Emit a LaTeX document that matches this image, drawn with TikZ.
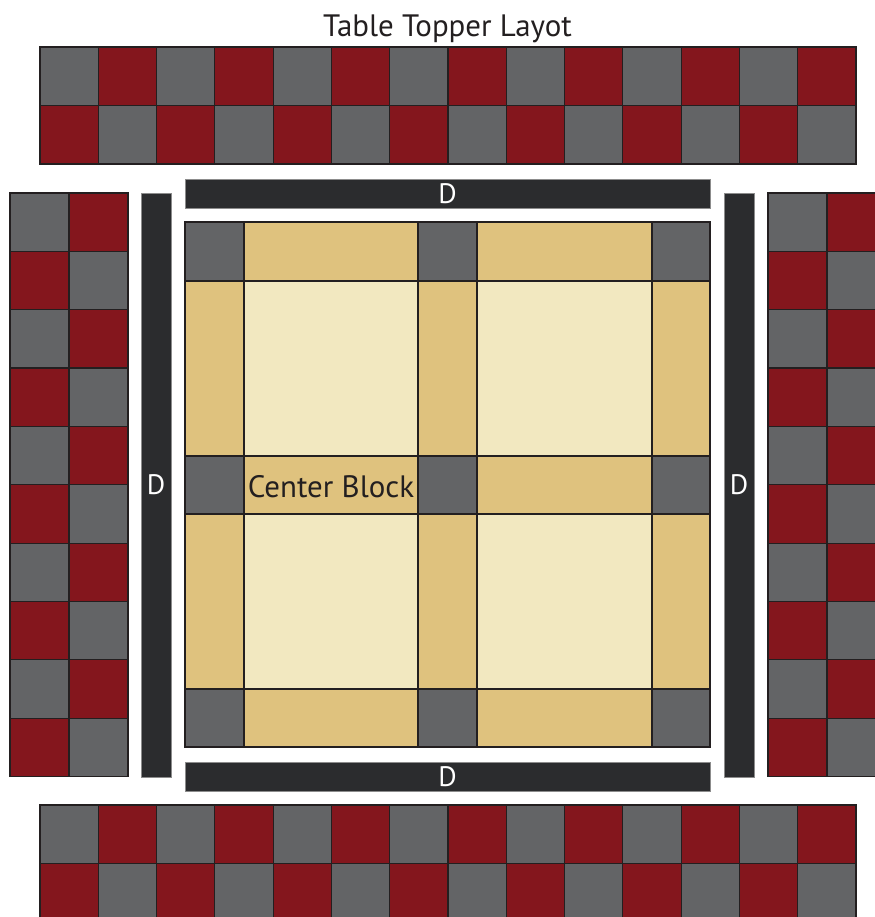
\documentclass[tikz,border=0pt]{standalone}
\usepackage{fontspec}
\setmainfont{PT Sans}
\usepackage{tikz}
\definecolor{patchgray}{HTML}{636466}
\definecolor{patchred}{HTML}{84161D}
\definecolor{patchtan}{HTML}{DFC27E}
\definecolor{patchcream}{HTML}{F2E8C0}
\definecolor{barblack}{HTML}{2B2C2E}
\definecolor{seamline}{HTML}{231F20}
\tikzset{
  cell0/.style={fill=patchgray,draw=seamline,line width=0.8pt},
  cell1/.style={fill=patchred,draw=seamline,line width=0.8pt},
  gridcell0/.style={fill=patchgray,draw=seamline,line width=0.8pt},
  gridcell1/.style={fill=patchtan,draw=seamline,line width=0.8pt},
  gridcell2/.style={fill=patchcream,draw=seamline,line width=0.8pt},
  dbar/.style={fill=barblack,draw=black!45,line width=0.6pt},
  dlabel/.style={text=white,font=\fontsize{20}{24}\selectfont,inner sep=0pt}
}
\begin{document}
\begin{tikzpicture}[x=0.025cm,y=-0.025cm]
  \useasboundingbox (0,0) rectangle (875,917);
  \clip (0,0) rectangle (875,917);

  \node (title) at (447.5,29) [text=seamline,font=\fontsize{22}{26}\selectfont] {Table Topper Layot};

  % top and bottom checker bands
  \foreach \i in {0,...,13} {
    \foreach \j in {0,1} {
      \pgfmathtruncatemacro{\k}{mod(\i+\j,2)}
      \draw [cell\k] (40+58.286*\i,47+58.5*\j) rectangle +(58.286,58.5);
      \draw [cell\k] (40+58.286*\i,805+58.5*\j) rectangle +(58.286,58.5);
    }
  }

  % left and right checker bands
  \foreach \j in {0,...,9} {
    \foreach \i in {0,1} {
      \pgfmathtruncatemacro{\k}{mod(\i+\j,2)}
      \draw [cell\k] (10+59*\i,193+58.35*\j) rectangle +(59,58.35);
      \draw [cell\k] (768+59*\i,193+58.35*\j) rectangle +(59,58.35);
    }
  }

  % D borders
  \draw [dbar] (185,179) rectangle (710,208);
  \draw [dbar] (185,762) rectangle (710,791);
  \draw [dbar] (141,193) rectangle (171,777);
  \draw [dbar] (724,193) rectangle (754,777);
  \node (dtop) at (447.5,193.5) [dlabel] {D};
  \node (dbottom) at (447.5,776.5) [dlabel] {D};
  \node (dleft) at (156,485) [dlabel] {D};
  \node (dright) at (739,485) [dlabel] {D};

  % center block
  \foreach \xa/\xb/\i in {185/244/0,244/418/1,418/477/2,477/652/3,652/710/4} {
    \foreach \ya/\yb/\j in {222/281/0,281/456/1,456/514/2,514/689/3,689/747/4} {
      \pgfmathtruncatemacro{\k}{mod(\i,2)+mod(\j,2)}
      \draw [gridcell\k] (\xa,\ya) rectangle (\xb,\yb);
    }
  }
  \node (center) at (331,487) [text=seamline,font=\fontsize{22}{26}\selectfont,inner sep=0pt] {Center Block};

\end{tikzpicture}
\end{document}
